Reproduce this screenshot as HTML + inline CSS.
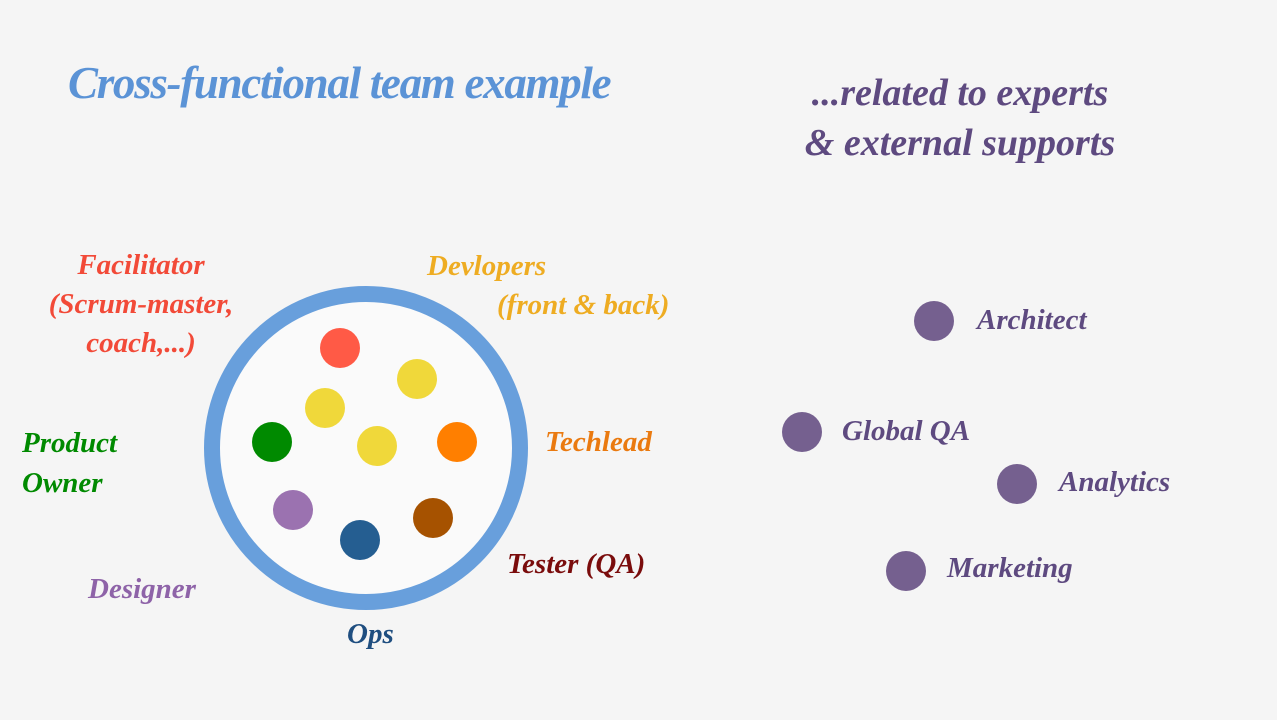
<!DOCTYPE html>
<html><head><meta charset="utf-8"><style>
html,body{margin:0;padding:0}
body{width:1277px;height:720px;background:#f5f5f5;position:relative;overflow:hidden;font-family:"Liberation Serif",serif;font-style:italic;font-weight:bold}
.t{position:absolute;white-space:nowrap;line-height:1}
.c{position:absolute;border-radius:50%;width:40px;height:40px}
</style></head><body>
<div class="t" style="left:68px;top:61px;font-size:45px;color:#5b93d6;letter-spacing:-1.3px">Cross-functional team example</div>
<div class="t" style="left:760px;top:68px;width:400px;text-align:center;font-size:38px;color:#5e4a80;line-height:50px;white-space:normal">...related to experts<br>&amp; external supports</div>

<div style="position:absolute;left:204px;top:286px;width:292px;height:292px;border:16px solid #689fdc;border-radius:50%;background:#fafafa"></div>
<div class="c" style="left:320px;top:328px;background:#ff5a46"></div>
<div class="c" style="left:397px;top:359px;background:#f0d83a"></div>
<div class="c" style="left:305px;top:388px;background:#f0d83a"></div>
<div class="c" style="left:357px;top:426px;background:#f0d83a"></div>
<div class="c" style="left:252px;top:422px;background:#008a00"></div>
<div class="c" style="left:437px;top:422px;background:#ff7f00"></div>
<div class="c" style="left:273px;top:490px;background:#9b72b0"></div>
<div class="c" style="left:340px;top:520px;background:#255e91"></div>
<div class="c" style="left:413px;top:498px;background:#a65200"></div>

<div class="t" style="left:30px;top:246px;width:222px;text-align:center;font-size:29px;color:#f24a38;line-height:39px;white-space:normal">Facilitator<br>(Scrum-master,<br>coach,...)</div>
<div class="t" style="left:427px;top:252px;font-size:29px;color:#eeac22">Devlopers</div>
<div class="t" style="left:497px;top:291px;font-size:29px;color:#eeac22">(front &amp; back)</div>
<div class="t" style="left:22px;top:423px;font-size:29px;color:#008a00;line-height:40px">Product<br>Owner</div>
<div class="t" style="left:545px;top:428px;font-size:29px;color:#ea7a10">Techlead</div>
<div class="t" style="left:507px;top:550px;font-size:29px;color:#7a0c0c">Tester (QA)</div>
<div class="t" style="left:88px;top:575px;font-size:29px;color:#8e63a8">Designer</div>
<div class="t" style="left:347px;top:620px;font-size:29px;color:#1f4e80">Ops</div>

<div class="c" style="left:914px;top:301px;background:#75608f"></div>
<div class="c" style="left:782px;top:412px;background:#75608f"></div>
<div class="c" style="left:997px;top:464px;background:#75608f"></div>
<div class="c" style="left:886px;top:551px;background:#75608f"></div>
<div class="t" style="left:977px;top:306px;font-size:29px;color:#5e4a80">Architect</div>
<div class="t" style="left:842px;top:417px;font-size:29px;color:#5e4a80">Global QA</div>
<div class="t" style="left:1059px;top:468px;font-size:29px;color:#5e4a80">Analytics</div>
<div class="t" style="left:947px;top:554px;font-size:29px;color:#5e4a80">Marketing</div>
</body></html>
